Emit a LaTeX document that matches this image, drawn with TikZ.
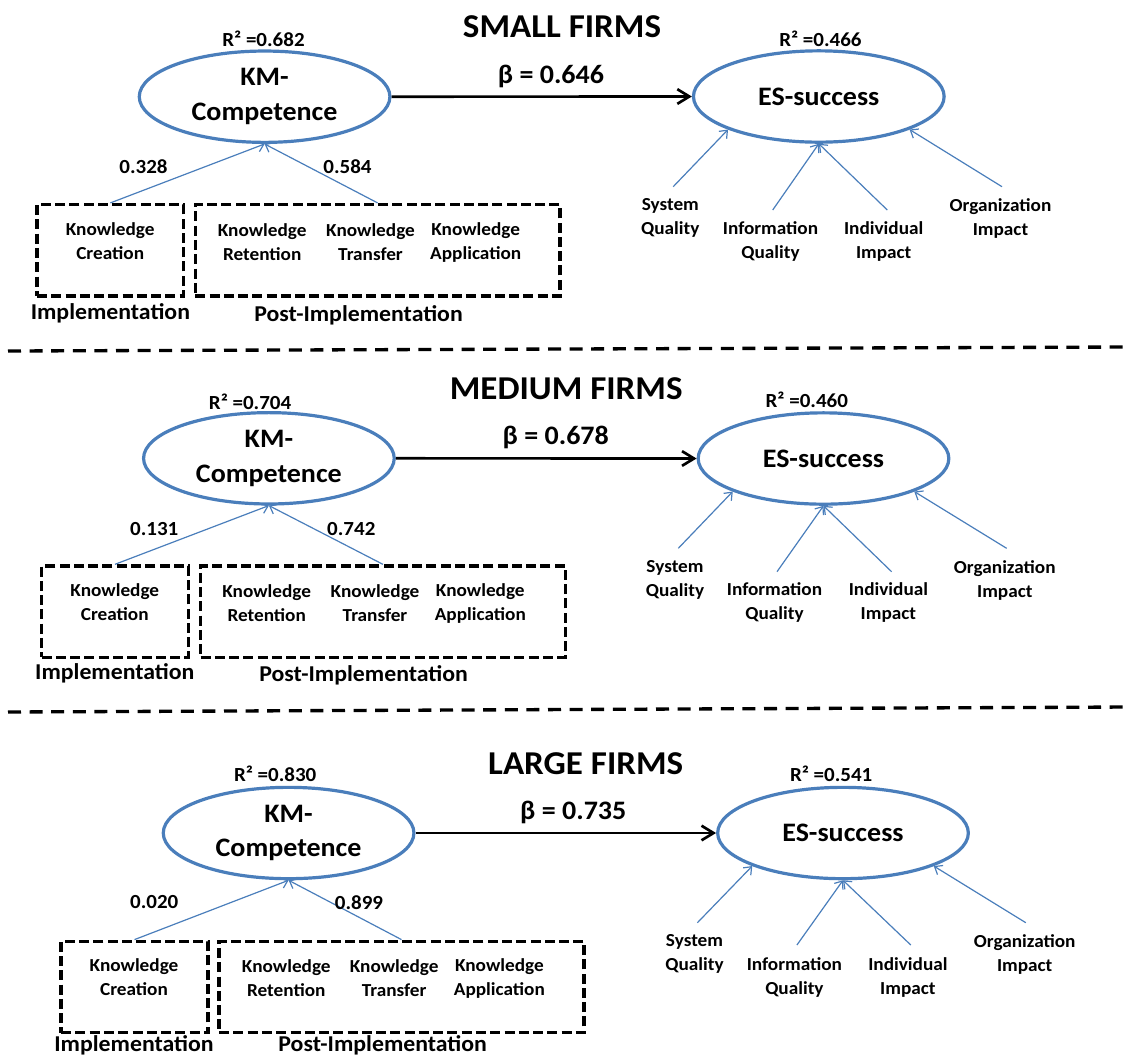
\documentclass[tikz,border=0pt]{standalone}
\usepackage{fontspec}
\setmainfont{Carlito}[FakeStretch=1.05]
\usetikzlibrary{shapes.geometric,arrows.meta}
\definecolor{esblue}{RGB}{74,126,187}
\begin{document}
\begin{tikzpicture}[x=0.75pt,y=-0.75pt,
  lat/.style={ellipse,draw=esblue,line width=2.4pt,minimum width=188pt,minimum height=68.5pt,inner sep=0pt,align=center,font=\bfseries\fontsize{20}{26}\selectfont},
  boxA/.style={draw=black,line width=2.6pt,dash pattern=on 7.5pt off 3.2pt,minimum width=110pt,minimum height=68.5pt,inner sep=0pt},
  boxB/.style={boxA,minimum width=273.5pt},
  smalltxt/.style={align=center,inner sep=0pt,font=\bfseries\fontsize{13.75}{18}\selectfont},
  rsq/.style={inner sep=0pt,font=\bfseries\fontsize{15}{18}\selectfont},
  wlab/.style={inner sep=0pt,font=\bfseries\fontsize{15}{18}\selectfont},
  ttl/.style={inner sep=0pt,font=\bfseries\fontsize{25}{30}\selectfont},
  betalab/.style={inner sep=0pt,anchor=base,font=\bfseries\fontsize{20}{24}\selectfont},
  phase/.style={inner sep=0pt,font=\bfseries\fontsize{17}{20}\selectfont},
  ind/.style={draw=esblue,line width=0.9pt,-{Straight Barb[length=5pt,width=8pt]}},
  pathar/.style={draw=black,line width=2pt,-{Straight Barb[length=9pt,width=11pt]}},
  sepline/.style={draw=black,line width=2.5pt,dash pattern=on 9.75pt off 6.45pt}
]
\useasboundingbox (0,0) rectangle (1127,1058);

% ================= SMALL FIRMS =================
\node[ttl] (t1) at (562,27) {SMALL FIRMS};
\node[lat] (km1) at (264.6,96.7) {KM-\\Competence};
\node[lat] (es1) at (818.8,96.5) {ES-success};
\node[rsq] (rk1) at (263.5,39) {R² =0.682};
\node[rsq] (re1) at (820.4,39) {R² =0.466};
\draw[pathar] (km1.east) -- (es1.west);
\node[betalab] (b1) at (551,83.3) {β = 0.646};
\node[boxA] (ba1) at (110.4,250.3) {};
\node[boxB] (bb1) at (377.6,250.3) {};
\node[smalltxt] (kc1) at (110.2,241.3) {Knowledge\\Creation};
\node[smalltxt] (kr1) at (262.2,242.5) {Knowledge\\Retention};
\node[smalltxt] (kt1) at (370.5,242.5) {Knowledge\\Transfer};
\node[smalltxt] (ka1) at (475.7,242.5) {Knowledge\\Application};
\node[phase] (im1) at (110.4,313) {Implementation};
\node[phase] (pi1) at (358.5,315) {Post-Implementation};
\draw[ind] (ba1.north) -- (km1.south);
\draw[ind] (bb1.north) -- (km1.south);
\node[wlab] (w1a) at (143.5,166.7) {0.328};
\node[wlab] (w1b) at (347.5,166.7) {0.584};
\node[smalltxt] (sq1) at (670.3,218.3) {System\\Quality};
\node[smalltxt] (iq1) at (770.5,241.3) {Information\\Quality};
\node[smalltxt] (ii1) at (883.7,241.3) {Individual\\Impact};
\node[smalltxt] (oi1) at (1000.5,218.3) {Organization\\Impact};
\coordinate (sq1e) at (673.2,186.7);
\coordinate (iq1e) at (772.7,210);
\coordinate (ii1e) at (887.3,210);
\coordinate (oi1e) at (1002,186.7);
\draw[ind] (sq1e) -- (es1.200);
\draw[ind] (iq1e) -- (es1.south);
\draw[ind] (ii1e) -- (es1.south);
\draw[ind] (oi1e) -- (es1.340);

% separator 1
\coordinate (s1a) at (8,351);
\coordinate (s1b) at (1127,347);
\draw[sepline] (s1a) -- (s1b);

% ================= MEDIUM FIRMS =================
\node[ttl] (t2) at (566.2,388.8) {MEDIUM FIRMS};
\node[lat] (km2) at (268.9,458.3) {KM-\\Competence};
\node[lat] (es2) at (823.5,458.5) {ES-success};
\node[rsq] (rk2) at (250.1,401.7) {R² =0.704};
\node[rsq] (re2) at (806.8,400) {R² =0.460};
\draw[pathar] (km2.east) -- (es2.west);
\node[betalab] (b2) at (555.8,444.5) {β = 0.678};
\node[boxA] (ba2) at (115,611.7) {};
\node[boxB] (bb2) at (382.9,611.7) {};
\node[smalltxt] (kc2) at (114.8,602) {Knowledge\\Creation};
\node[smalltxt] (kr2) at (266.7,603.2) {Knowledge\\Retention};
\node[smalltxt] (kt2) at (375,603.2) {Knowledge\\Transfer};
\node[smalltxt] (ka2) at (480.3,603.2) {Knowledge\\Application};
\node[phase] (im2) at (114.8,673.3) {Implementation};
\node[phase] (pi2) at (363.6,675) {Post-Implementation};
\draw[ind] (ba2.north) -- (km2.south);
\draw[ind] (bb2.north) -- (km2.south);
\node[wlab] (w2a) at (154.2,529.3) {0.131};
\node[wlab] (w2b) at (351.3,529.3) {0.742};
\node[smalltxt] (sq2) at (675,580) {System\\Quality};
\node[smalltxt] (iq2) at (774.5,602) {Information\\Quality};
\node[smalltxt] (ii2) at (888.4,602) {Individual\\Impact};
\node[smalltxt] (oi2) at (1004.8,580) {Organization\\Impact};
\coordinate (sq2e) at (678.3,548.3);
\coordinate (iq2e) at (777,571.7);
\coordinate (ii2e) at (891.6,571.7);
\coordinate (oi2e) at (1006.6,548.3);
\draw[ind] (sq2e) -- (es2.200);
\draw[ind] (iq2e) -- (es2.south);
\draw[ind] (ii2e) -- (es2.south);
\draw[ind] (oi2e) -- (es2.340);

% separator 2
\coordinate (s2a) at (8,712);
\coordinate (s2b) at (1127,707);
\draw[sepline] (s2a) -- (s2b);

% ================= LARGE FIRMS =================
\node[ttl] (t3) at (585.7,763.8) {LARGE FIRMS};
\node[lat] (km3) at (288.6,833) {KM-\\Competence};
\node[lat] (es3) at (843,833) {ES-success};
\node[rsq] (rk3) at (275.2,774) {R² =0.830};
\node[rsq] (re3) at (831.2,773.3) {R² =0.541};
\draw[pathar] (km3.east) -- (es3.west);
\node[betalab] (b3) at (573.3,819.5) {β = 0.735};
\node[boxA] (ba3) at (134.5,987) {};
\node[boxB] (bb3) at (401.5,987) {};
\node[smalltxt] (kc3) at (134,977) {Knowledge\\Creation};
\node[smalltxt] (kr3) at (286.3,978.3) {Knowledge\\Retention};
\node[smalltxt] (kt3) at (394.2,978.3) {Knowledge\\Transfer};
\node[smalltxt] (ka3) at (499.4,978.3) {Knowledge\\Application};
\node[phase] (im3) at (134,1045) {Implementation};
\node[phase] (pi3) at (382.7,1045) {Post-Implementation};
\draw[ind] (ba3.north) -- (km3.south);
\draw[ind] (bb3.north) -- (km3.south);
\node[wlab] (w3a) at (154.2,902.3) {0.020};
\node[wlab] (w3b) at (359,902.3) {0.899};
\node[smalltxt] (sq3) at (694.5,954.2) {System\\Quality};
\node[smalltxt] (iq3) at (794.4,977) {Information\\Quality};
\node[smalltxt] (ii3) at (907.9,977) {Individual\\Impact};
\node[smalltxt] (oi3) at (1024.7,954.2) {Organization\\Impact};
\coordinate (sq3e) at (697.4,922.7);
\coordinate (iq3e) at (796.9,945);
\coordinate (ii3e) at (910.8,945);
\coordinate (oi3e) at (1025.8,922.7);
\draw[ind] (sq3e) -- (es3.200);
\draw[ind] (iq3e) -- (es3.south);
\draw[ind] (ii3e) -- (es3.south);
\draw[ind] (oi3e) -- (es3.340);
\end{tikzpicture}
\end{document}
